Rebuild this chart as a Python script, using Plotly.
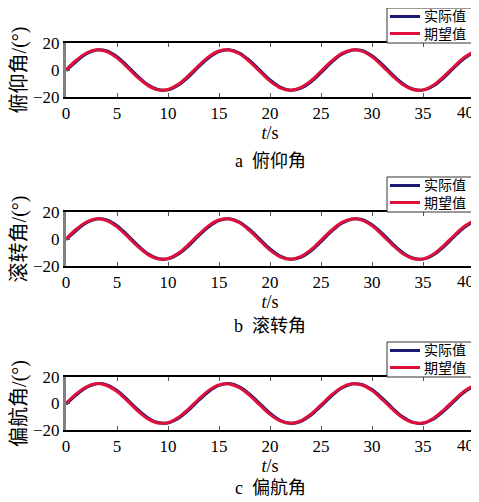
import plotly.graph_objects as go

# ---- data (same signals in all three panels) ----
t = list(range(0, 41))
desired = [0.0, 7.2, 12.6, 15.0, 13.6, 9.0, 2.1, -5.3, -11.4, -14.7, -14.4,
           -10.6, -4.2, 3.2, 9.9, 14.1, 14.8, 12.0, 6.2, -1.1, -8.2,
           -13.2, -15.0, -13.1, -8.1, -1.0, 6.3, 12.1, 14.9, 14.0, 9.8,
           3.1, -4.3, -10.7, -14.4, -14.7, -11.3, -5.1, 2.2, 9.1, 13.7]
actual = [-0.5, 6.3, 12.1, 14.9, 14.1, 9.8, 3.1, -4.3, -10.7, -14.4, -14.7,
          -11.3, -5.2, 2.3, 9.1, 13.7, 15.0, 12.6, 7.1, -0.1, -7.3,
          -12.7, -15.0, -13.6, -8.9, -2.0, 5.4, 11.5, 14.7, 14.4, 10.5,
          4.1, -3.4, -10.0, -14.1, -14.9, -11.9, -6.0, 1.3, 8.3, 13.3]

panel_letters = ["a", "b", "c"]
panel_names = ["俯仰角", "滚转角", "偏航角"]
series_names = ["实际值", "期望值"]
x_tick_vals = [0, 5, 10, 15, 20, 25, 30, 35, 40]
x_tick_text = ["0", "5", "10", "15", "20", "25", "30", "35", "40"]
y_tick_vals = [-20, 0, 20]
y_tick_text = ["\u221220", "0", "20"]

# page is offset by the default 8px body margin
OFF = 8
W, H = 479 - OFF, 502 - OFF
NAVY = "#1a1a72"
RED = "#e0103a"
SERIF = "Liberation Serif, Times New Roman, Noto Sans CJK SC, serif"

# page-pixel layout of the reference
plot_left, plot_right = 66, 474
rows_px = [(43, 97), (212, 266), (377, 430)]
caption_y_px = [161, 326, 488]
TICKFONT = dict(family=SERIF, size=17, color="black")


def px(X):
    return (X - OFF) / W


def py(Y):
    return 1 - (Y - OFF) / H


fig = go.Figure()
colors = [NAVY, RED]
for i in range(3):
    k = "" if i == 0 else str(i + 1)
    for name, vals, col in zip(series_names, [actual, desired], colors):
        fig.add_trace(go.Scatter(x=t, y=vals, mode="lines", name=name,
                                 line=dict(color=col, width=3, shape="spline"),
                                 xaxis=f"x{k}", yaxis=f"y{k}", showlegend=False))

layout = dict(width=W, height=H,
              margin=dict(l=0, r=0, t=0, b=0, autoexpand=False),
              paper_bgcolor="white", plot_bgcolor="white", showlegend=False)

annotations = []
shapes = []
for i in range(3):
    k = "" if i == 0 else str(i + 1)
    top, bot = rows_px[i]
    dom_y = [py(bot), py(top)]
    dom_x = [px(plot_left), px(plot_right)]
    # the last tick label sits against the right page edge -> drawn as annotation
    layout[f"xaxis{k}"] = dict(
        domain=dom_x, anchor=f"y{k}", range=[0, 40], tickvals=x_tick_vals,
        ticktext=x_tick_text[:-1] + [""],
        ticks="inside", ticklen=4, tickcolor="#555", showgrid=False,
        zeroline=False, showline=True, linecolor="black", linewidth=1.5,
        mirror="ticks", ticklabeloverflow="allow", tickfont=TICKFONT,
        title=dict(text="<i>t</i>/s", font=dict(family=SERIF, size=18, color="black"),
                   standoff=4),
        automargin=False)
    annotations.append(dict(
        text=x_tick_text[-1], xref=f"x{k}", yref="paper", x=x_tick_vals[-1],
        y=py(bot + 4), xanchor="right", yanchor="top", xshift=2,
        showarrow=False, font=TICKFONT))
    layout[f"yaxis{k}"] = dict(
        domain=dom_y, anchor=f"x{k}", range=[-20, 20], tickvals=y_tick_vals,
        ticktext=y_tick_text, ticks="inside", ticklen=4, tickcolor="#555",
        showgrid=False, zeroline=False, showline=True, linecolor="#808080",
        linewidth=3, ticklabeloverflow="allow", tickfont=TICKFONT,
        title=dict(text=panel_names[i] + "/(°)",
                   font=dict(family=SERIF, size=20, color="black"), standoff=2),
        automargin=False)
    # right-side ticks only
    layout[f"yaxis{i + 4}"] = dict(
        overlaying=f"y{k}", side="right", anchor=f"x{k}", range=[-20, 20],
        tickvals=y_tick_vals, ticks="inside", ticklen=4, tickcolor="#555",
        showticklabels=False, showgrid=False, zeroline=False, showline=False)

    # legend box (drawn above the plot area, right aligned)
    box_top, box_bot = top - 35, top
    shapes.append(dict(type="rect", xref="paper", yref="paper",
                       x0=px(387), x1=px(plot_right), y0=py(box_bot), y1=py(box_top),
                       line=dict(color="#333", width=1), fillcolor="white", layer="above"))
    row_y = [top - 26.5, top - 9.5]
    for col, ry in zip(colors, row_y):
        shapes.append(dict(type="line", xref="paper", yref="paper",
                           x0=px(390), x1=px(420), y0=py(ry), y1=py(ry),
                           line=dict(color=col, width=3), layer="above"))
    annotations.append(dict(
        text="<br>".join(series_names), xref="paper", yref="paper",
        x=px(422), y=py((row_y[0] + row_y[1]) / 2), xanchor="left", yanchor="middle",
        align="left", showarrow=False,
        font=dict(family=SERIF, size=14, color="black")))

    annotations.append(dict(
        text=panel_letters[i] + "  " + panel_names[i], xref="paper", yref="paper",
        x=px(270), y=py(caption_y_px[i]), xanchor="center", yanchor="middle",
        showarrow=False, font=dict(family=SERIF, size=18, color="black")))

layout["annotations"] = annotations
layout["shapes"] = shapes
fig.update_layout(**layout)
fig.write_html("out.html")
